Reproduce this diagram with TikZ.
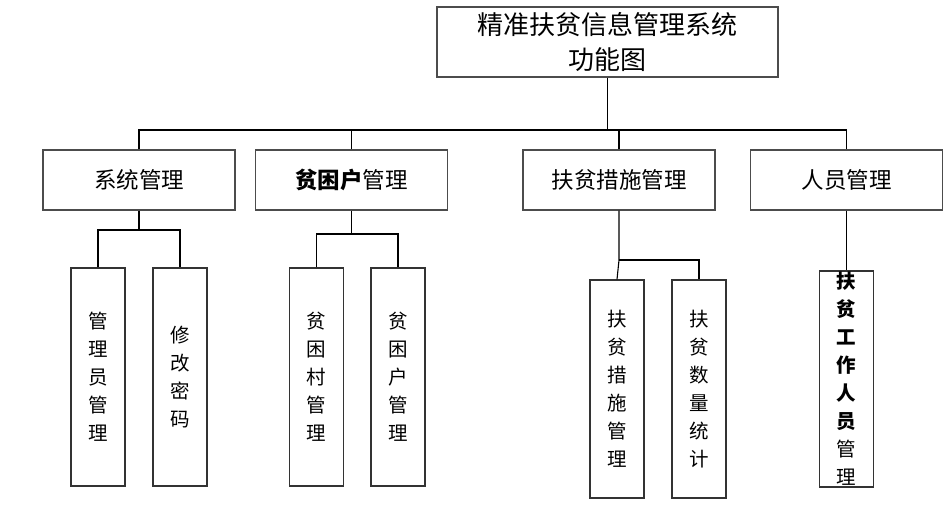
\documentclass[tikz,border=0pt]{standalone}
\usepackage{fontspec}
\setmainfont{Noto Sans CJK SC}
\begin{document}
\begin{tikzpicture}[x=1pt,y=-1pt,
    topbox/.style={draw=black!70, line width=1.2pt, minimum width=341pt, minimum height=70pt, inner sep=0pt, align=center, font=\fontsize{26}{35}\selectfont},
    midbox/.style={draw=black!70, line width=1.2pt, minimum width=192pt, minimum height=60pt, inner sep=0pt, font=\fontsize{22.5}{25}\selectfont},
    leafbox/.style={draw=black!80, line width=1.2pt, minimum width=54pt, inner sep=0pt, align=center, font=\fontsize{19.5}{28}\selectfont},
    link/.style={black, line width=1.1pt}]
            \useasboundingbox (0,0) rectangle (944,511);

            \node[topbox] (root) at (607.5,42) {精准扶贫信息管理系统\\功能图};

            \node[midbox] (sys_0) at (139,180) {系统管理};
            \node[midbox] (poor_0) at (351.5,180) {{\bfseries 贫困户}管理};
            \node[midbox] (help_0) at (619,180) {扶贫措施管理};
            \node[midbox] (staff_0) at (846.5,180) {人员管理};

            \node[leafbox, minimum height=218pt] (sys_1) at (98,377) {管\\理\\员\\管\\理};
            \node[leafbox, minimum height=218pt] (sys_2) at (180,377) {修\\改\\密\\码};
            \node[leafbox, minimum height=218pt] (poor_1) at (316.5,377) {贫\\困\\村\\管\\理};
            \node[leafbox, minimum height=218pt] (poor_2) at (398,377) {贫\\困\\户\\管\\理};
            \node[leafbox, minimum height=218pt] (help_1) at (617,389) {扶\\贫\\措\\施\\管\\理};
            \node[leafbox, minimum height=218pt] (help_2) at (699,389) {扶\\贫\\数\\量\\统\\计};
            \node[leafbox, minimum height=216pt] (staff_1) at (846.5,379) {\bfseries 扶\\\bfseries 贫\\\bfseries 工\\\bfseries 作\\\bfseries 人\\\bfseries 员\\管\\理};

            \coordinate (bus) at (607.5,130);
            \coordinate (sys_j) at (139,230);
            \coordinate (poor_j) at (351.5,234);
            \coordinate (help_j) at (619,260);

            \draw[link] (root) -- (bus);
            \draw[link] (sys_0) |- (bus) -| (staff_0);
            \draw[link] (poor_0) |- (bus);
            \draw[link] (help_0) |- (bus);

            \draw[link] (sys_0) -- (sys_j);
            \draw[link] (sys_1) |- (sys_j) -| (sys_2);
            \draw[link] (poor_0) -- (poor_j);
            \draw[link] (poor_1) |- (poor_j) -| (poor_2);
            \draw[link] (help_0) -- (help_j) -- (help_1.north);
            \draw[link] (help_j) -| (help_2);
            \draw[link] (staff_0) -- (staff_1);
        \end{tikzpicture}
\end{document}
